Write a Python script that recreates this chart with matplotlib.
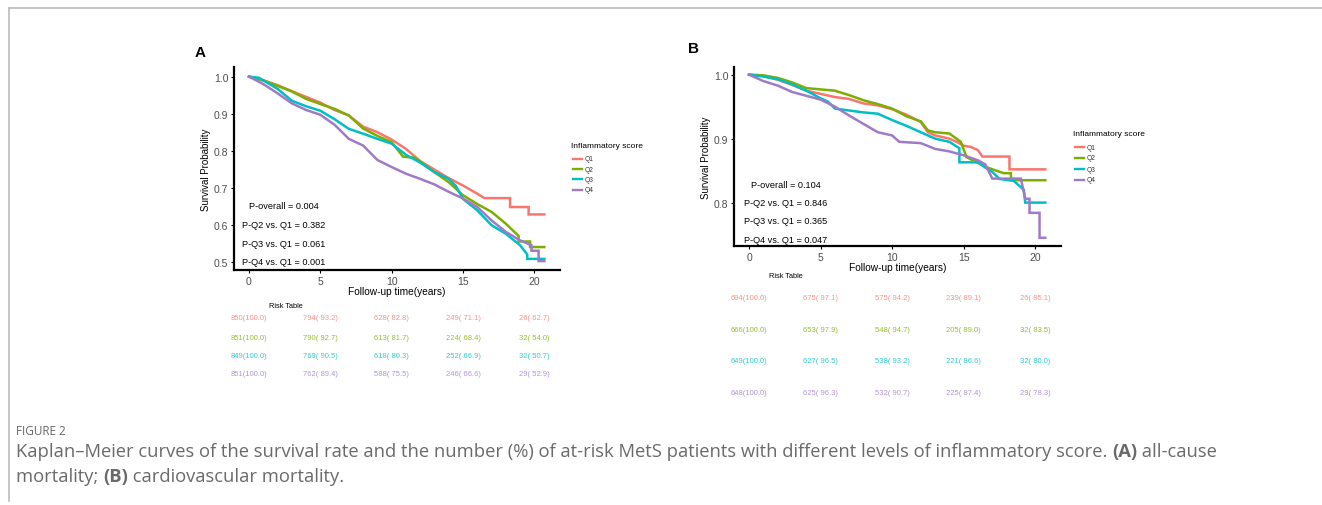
import matplotlib
matplotlib.use('Agg')
import matplotlib.pyplot as plt
import matplotlib.transforms as mtransforms
from matplotlib.lines import Line2D

W, H = 1322, 506

groups = ['Q1', 'Q2', 'Q3', 'Q4']
colors = ['#F8766D', '#7CAE00', '#00BFC4', '#9E7BC8']
x_ticks = [0, 5, 10, 15, 20]
risk_times = [0, 5, 10, 15, 20]

# panel A - all-cause mortality
a_t = [
    [0, 1, 2, 3.5, 5, 6, 7, 8, 9, 10, 11, 12, 13, 14, 15, 16, 16.5, 18.3, 18.3, 19.6, 19.6, 20.7],
    [0, 1, 2, 3, 4, 5, 6, 7, 8, 9, 10, 10.8, 11.6, 12, 13, 14, 15, 16, 17, 18, 18.9, 18.9, 19.7, 19.7, 20.7],
    [0, 0.7, 1, 2, 3, 4, 5, 6, 7, 8, 9, 10, 11, 12, 13, 14, 14.5, 15, 16, 17, 18, 19, 19.5, 19.5, 20.7],
    [0, 1, 2, 3, 4, 5, 6, 7, 8, 9, 10, 11, 12, 13, 14, 15, 16, 17, 18, 19, 19.8, 19.8, 20.3, 20.3, 20.7],
]
a_s = [
    [1.0, 0.99, 0.977, 0.953, 0.93, 0.91, 0.895, 0.865, 0.85, 0.83, 0.805, 0.772, 0.749, 0.726, 0.706, 0.684, 0.672, 0.672, 0.648, 0.648, 0.628, 0.628],
    [1.0, 0.99, 0.975, 0.96, 0.94, 0.926, 0.913, 0.895, 0.86, 0.84, 0.823, 0.784, 0.781, 0.771, 0.742, 0.715, 0.68, 0.656, 0.635, 0.603, 0.57, 0.555, 0.555, 0.54, 0.54],
    [1.0, 0.997, 0.99, 0.967, 0.935, 0.92, 0.908, 0.885, 0.859, 0.846, 0.832, 0.819, 0.789, 0.768, 0.742, 0.724, 0.705, 0.67, 0.639, 0.599, 0.576, 0.545, 0.52, 0.508, 0.508],
    [1.0, 0.98, 0.955, 0.928, 0.91, 0.897, 0.87, 0.832, 0.814, 0.775, 0.756, 0.738, 0.724, 0.709, 0.689, 0.671, 0.648, 0.612, 0.581, 0.558, 0.545, 0.53, 0.53, 0.502, 0.502],
]
a_p = ['P-overall = 0.004', 'P-Q2 vs. Q1 = 0.382', 'P-Q3 vs. Q1 = 0.061', 'P-Q4 vs. Q1 = 0.001']
a_risk = [
    ['850(100.0)', '794( 93.2)', '628( 82.8)', '249( 71.1)', '26( 62.7)'],
    ['851(100.0)', '790( 92.7)', '613( 81.7)', '224( 68.4)', '32( 54.0)'],
    ['849(100.0)', '769( 90.5)', '618( 80.3)', '252( 66.9)', '32( 50.7)'],
    ['851(100.0)', '762( 89.4)', '588( 75.5)', '246( 66.6)', '29( 52.9)'],
]
a_yticks = [0.5, 0.6, 0.7, 0.8, 0.9, 1.0]

# panel B - cardiovascular mortality
b_t = [
    [0, 1, 2, 3, 4, 5, 6, 7, 8, 9, 10, 11, 12, 12.5, 13, 14, 14.5, 15, 15.5, 16, 16.3, 18.2, 18.2, 20.7],
    [0, 1, 2, 3, 4, 5, 6, 7, 8, 9, 10, 11, 12, 12.5, 13, 14, 14.8, 15.2, 16, 16.5, 17.8, 18.3, 18.3, 20.7],
    [0, 1, 2, 3, 4, 5, 5.5, 6, 7, 8, 9, 10, 11, 12, 13, 14, 14.7, 14.7, 16, 16.5, 17, 17.5, 18.5, 19.2, 19.3, 20.7],
    [0, 1, 2, 3, 4, 5, 6, 7, 8, 9, 10, 10.5, 12, 13, 14, 15, 16, 16.5, 17, 19, 19.3, 19.6, 19.6, 20.3, 20.3, 20.7],
]
b_s = [
    [1.0, 0.998, 0.992, 0.984, 0.975, 0.97, 0.965, 0.962, 0.955, 0.952, 0.946, 0.9375, 0.926, 0.91, 0.905, 0.9, 0.895, 0.889, 0.887, 0.882, 0.872, 0.872, 0.852, 0.852],
    [1.0, 0.999, 0.995, 0.988, 0.979, 0.977, 0.975, 0.968, 0.96, 0.954, 0.947, 0.935, 0.927, 0.913, 0.91, 0.908, 0.895, 0.871, 0.862, 0.856, 0.846, 0.846, 0.835, 0.835],
    [1.0, 0.997, 0.993, 0.985, 0.975, 0.963, 0.958, 0.947, 0.944, 0.941, 0.939, 0.929, 0.92, 0.91, 0.9, 0.895, 0.885, 0.863, 0.863, 0.855, 0.848, 0.837, 0.834, 0.82, 0.8, 0.8],
    [1.0, 0.99, 0.983, 0.973, 0.967, 0.961, 0.95, 0.936, 0.923, 0.91, 0.905, 0.895, 0.893, 0.884, 0.88, 0.874, 0.866, 0.86, 0.8375, 0.8375, 0.806, 0.806, 0.784, 0.784, 0.745, 0.745],
]
b_p = ['P-overall = 0.104', 'P-Q2 vs. Q1 = 0.846', 'P-Q3 vs. Q1 = 0.365', 'P-Q4 vs. Q1 = 0.047']
b_risk = [
    ['694(100.0)', '675( 97.1)', '575( 94.2)', '239( 89.1)', '26( 85.1)'],
    ['666(100.0)', '653( 97.9)', '548( 94.7)', '205( 89.0)', '32( 83.5)'],
    ['649(100.0)', '627( 96.5)', '538( 93.2)', '221( 86.6)', '32( 80.0)'],
    ['648(100.0)', '625( 96.3)', '532( 90.7)', '225( 87.4)', '29( 78.3)'],
]
b_yticks = [0.8, 0.9, 1.0]


def fx(px):
    return px / W


def fy(py):
    return 1 - py / H


plt.rcParams['font.family'] = ['Liberation Sans', 'DejaVu Sans']
fig = plt.figure(figsize=(W / 100, H / 100), dpi=100)

# frame lines of the page
fig.add_artist(Line2D([fx(9), fx(1322)], [fy(9), fy(9)], color='#bbbbbb', lw=1.2))
fig.add_artist(Line2D([fx(9), fx(9)], [fy(9), fy(502)], color='#bbbbbb', lw=1.2))


def km_panel(box, ylim, yticks, ts, ss, pvals, risk, letter, letter_xy, p_xy, p_dy,
             leg_xy, leg_dy, risk_title_y, risk_y):
    l, r, t, b = box
    ax = fig.add_axes([fx(l), fy(b), (r - l) / W, (b - t) / H])
    for tt, s, c in zip(ts, ss, colors):
        ax.plot(tt, s, color=c, lw=1.8, solid_joinstyle='miter')
    ax.set_xlim(-1.05, 21.8)
    ax.set_ylim(*ylim)
    ax.set_xticks(x_ticks)
    ax.set_yticks(yticks)
    ax.set_yticklabels(['%.1f' % v for v in yticks])
    for sp in ['top', 'right']:
        ax.spines[sp].set_visible(False)
    for sp in ['left', 'bottom']:
        ax.spines[sp].set_linewidth(1.6)
    ax.tick_params(labelsize=7.5, labelcolor='#4d4d4d', length=2.5, width=0.8, pad=1.5)
    ax.set_xlabel('Follow-up time(years)', fontsize=7.3, labelpad=0)
    ax.set_ylabel('Survival Probability', fontsize=7, labelpad=2)

    fig.text(fx(letter_xy[0]), fy(letter_xy[1]), letter, fontsize=11, fontweight='bold',
             ha='left', va='center')

    for i, p in enumerate(pvals):
        fig.text(fx(p_xy[0]), fy(p_xy[1] + i * p_dy), p, fontsize=6.6, ha='center', va='center')

    # legend
    lx, ly = leg_xy
    fig.text(fx(lx), fy(ly), 'Inflammatory score', fontsize=6, ha='left', va='center')
    for i, (g, c) in enumerate(zip(groups, colors)):
        yy = fy(ly + 13 + i * leg_dy)
        fig.add_artist(Line2D([fx(lx + 2), fx(lx + 11)], [yy, yy], color=c, lw=1.7))
        fig.text(fx(lx + 14), yy, g, fontsize=4.8, ha='left', va='center', color='#333333')

    # risk table
    tr = mtransforms.blended_transform_factory(ax.transData, fig.transFigure)
    ax.text(2.6, fy(risk_title_y), 'Risk Table', transform=tr, fontsize=5.3, ha='center', va='center')
    for i, (row, c) in enumerate(zip(risk, colors)):
        for tm, lab in zip(risk_times, row):
            ax.text(tm, fy(risk_y[i]), lab, transform=tr, fontsize=5.5, color=c, alpha=0.8,
                    ha='center', va='center', clip_on=False)
    return ax


km_panel((234, 560, 68, 271), (0.478, 1.026), a_yticks, a_t, a_s, a_p, a_risk, 'A', (195, 53),
         (284, 206.5), 18.8, (571, 147), 10.2, 307, [319, 338, 357, 375])
km_panel((734, 1061, 68, 247.3), (0.7317, 1.012), b_yticks, b_t, b_s, b_p, b_risk, 'B', (688, 49),
         (786, 185), 18.5, (1073, 135), 11, 277, [299, 331, 362, 394])

# caption
cap_font = ['Open Sans', 'DejaVu Sans']
fig.text(fx(16), fy(432), 'FIGURE 2', fontsize=8.5, color='#666666', family=cap_font,
         ha='left', va='center')

cax = fig.add_axes([0, 0, 1, 1])
cax.axis('off')
line1 = [('Kaplan\u2013Meier curves of the survival rate and the number (%) of at-risk MetS patients '
          'with different levels of inflammatory score. ', 'normal'),
         ('(A)', 'bold'), (' all-cause', 'normal')]
line2 = [('mortality; ', 'normal'), ('(B)', 'bold'), (' cardiovascular mortality.', 'normal')]
for line, py in [(line1, 452), (line2, 477)]:
    prev = None
    for txt, wt in line:
        if prev is None:
            prev = cax.text(fx(16), fy(py), txt, fontsize=13.2, color='#6a6a6a', family=cap_font,
                            fontweight=wt, ha='left', va='center')
        else:
            prev = cax.annotate(txt, xy=(1, 0), xycoords=prev, fontsize=13.2, color='#6a6a6a',
                                family=cap_font, fontweight=wt, ha='left', va='bottom')

fig.savefig('out.png', dpi=100)
